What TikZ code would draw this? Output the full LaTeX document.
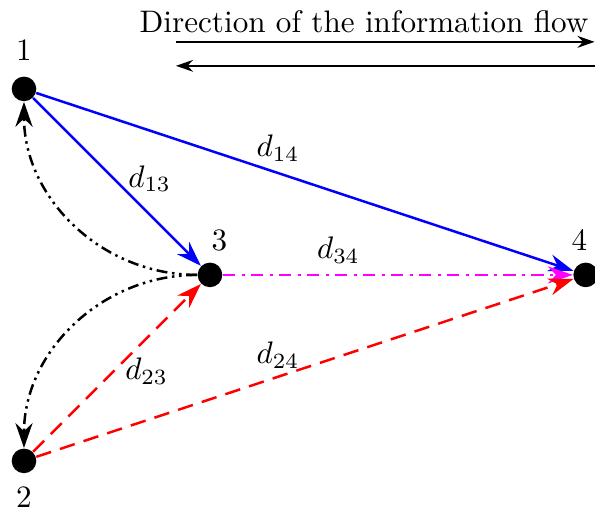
\documentclass[tikz,border=0pt]{standalone}
\usepackage{tikz}
\usetikzlibrary{arrows.meta}
\definecolor{linkMagenta}{RGB}{255,0,255}

\begin{document}
\begin{tikzpicture}[
      x=2.1cm, y=2.1cm,
      vertex/.style={circle, fill=black, inner sep=0pt, minimum size=7.9pt},
      dist/.style={text=black},
      linkBlue/.style={->, thick, blue},
      linkRed/.style={->, thick, red, dash pattern=on 5pt off 3pt},
      linkMag/.style={->, thick, linkMagenta, dash pattern=on 4pt off 2pt on 1pt off 2pt},
      linkBack/.style={->, thick, black, dash pattern=on 3.5pt off 1.5pt on 0.8pt off 1.5pt on 0.8pt off 1.5pt},
      flowArrow/.style={semithick, -{Stealth[length=5.5pt,width=3.8pt]}}
    ]

    \tikzset{>={Stealth[length=8pt,width=5.5pt]}}

    \useasboundingbox (-0.129,-0.258) rectangle (3.070,2.478);

    % -------- vertices --------
    \node[vertex, label={[label distance=1.5pt]above:1}] (v1) at (0,2) {};
    \node[vertex, label={[label distance=0.5pt]below:2}] (v2) at (0,0) {};
    \node[vertex, label={[label distance=0pt, xshift=3pt]above:3}] (v3) at (1,1) {};
    \node[vertex, label={[label distance=0pt, xshift=-2pt]above:4}] (v4) at (3.02,1) {};

    % -------- links --------
    \draw[linkBlue] (v1) -- node[dist, pos=0.48, right=1pt] {$d_{13}$} (v3);
    \draw[linkBlue] (v1) -- node[dist, pos=0.45, above] {$d_{14}$} (v4);
    \draw[linkMag] (v3) -- node[dist, pos=0.33, above] {$d_{34}$} (v4);
    \draw[linkRed] (v2) -- node[dist, pos=0.48, right] {$d_{23}$} (v3);
    \draw[linkRed] (v2) -- node[dist, pos=0.45, above=-1pt] {$d_{24}$} (v4);

    % обратные связи
    \draw[linkBack] (v3.west) to[out=180, in=-90] (v1);
    \draw[linkBack] (v3.west) to[out=180, in=90] (v2);

    % -------- direction of the information flow --------
    \node (flowText) at (1.828,2.36) {Direction of the information flow};
    \coordinate (flowTopL) at (0.817,2.253);
    \coordinate (flowTopR) at (3.068,2.253);
    \coordinate (flowBotL) at (0.817,2.124);
    \coordinate (flowBotR) at (3.070,2.124);
    \draw[flowArrow] (flowTopL) -- (flowTopR);
    \draw[flowArrow] (flowBotR) -- (flowBotL);

\end{tikzpicture}
\end{document}
